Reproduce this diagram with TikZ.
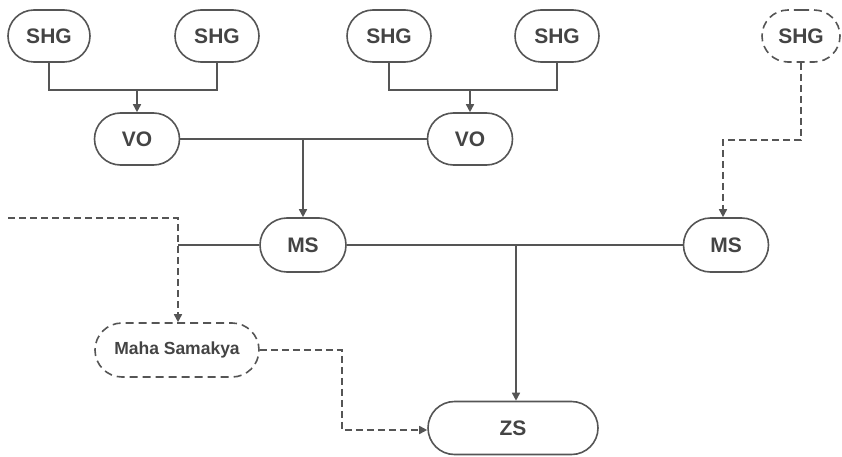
\documentclass[tikz,border=0pt]{standalone}
\usepackage{fontspec}
\setmainfont{Liberation Sans}
\usetikzlibrary{arrows.meta,shapes.misc}
\definecolor{lc}{HTML}{555555}
\definecolor{tc}{HTML}{444444}
\tikzset{
  pill/.style={rounded rectangle, draw=lc, line width=1.6pt, text=tc, font=\fontsize{21}{24}\selectfont\bfseries, inner sep=0pt},
  dpill/.style={pill, dash pattern=on 8pt off 5pt},
  conn/.style={draw=lc, line width=1.6pt},
  dconn/.style={conn, dash pattern=on 7pt off 4pt},
  arr/.style={-{Triangle[length=8pt,width=8pt]}},
}
\begin{document}
\begin{tikzpicture}[x=1pt,y=-1pt]
\useasboundingbox (0,0) rectangle (842,457);
\node[pill, minimum width=82pt, minimum height=52pt] (s1) at (49,36) {SHG};
\node[pill, minimum width=84pt, minimum height=52pt] (s2) at (217,36) {SHG};
\node[pill, minimum width=84pt, minimum height=52pt] (s3) at (389,36) {SHG};
\node[pill, minimum width=84pt, minimum height=52pt] (s4) at (557,36) {SHG};
\node[dpill, minimum width=78pt, minimum height=52pt] (s5) at (801,36) {SHG};
\node[pill, minimum width=85pt, minimum height=52pt] (v1) at (137,139) {VO};
\node[pill, minimum width=85pt, minimum height=52pt] (v2) at (470,139) {VO};
\node[pill, minimum width=86pt, minimum height=54pt] (m1) at (303,245) {MS};
\node[pill, minimum width=85pt, minimum height=54pt] (m2) at (726,245) {MS};
\node[dpill, minimum width=164pt, minimum height=54pt, font=\fontsize{17.5}{20}\selectfont\bfseries] (mh) at (177,350) {Maha Samakya};
\node[pill, minimum width=170pt, minimum height=53pt] (zs) at (513,428) {ZS};
\coordinate (j1) at (137,90);
\coordinate (j2) at (470,90);
\coordinate (j3) at (303,139);
\coordinate (j4) at (178,245);
\coordinate (j5) at (516,245);
\coordinate (lin) at (8,218);
\coordinate (lc1) at (178,218);
\draw[conn] (s1.south) |- (j1) -| (s2.south);
\draw[conn,arr] (j1) -- (v1.north);
\draw[conn] (s3.south) |- (j2) -| (s4.south);
\draw[conn,arr] (j2) -- (v2.north);
\draw[conn] (v1.east) -- (v2.west);
\draw[conn,arr] (j3) -- (m1.north);
\draw[conn] (j4) -- (m1.west);
\draw[conn] (m1.east) -- (m2.west);
\draw[conn,arr] (j5) -- (j5 |- zs.north);
\draw[dconn,arr] (s5.south) |- (723,140) -- (723,140 |- m2.north);
\draw[dconn,arr] (lin) -- (lc1) -- (lc1 |- mh.north);
\draw[dconn,arr] (mh.east) -| (342,430) -- (342,430 -| zs.west);
\end{tikzpicture}
\end{document}
